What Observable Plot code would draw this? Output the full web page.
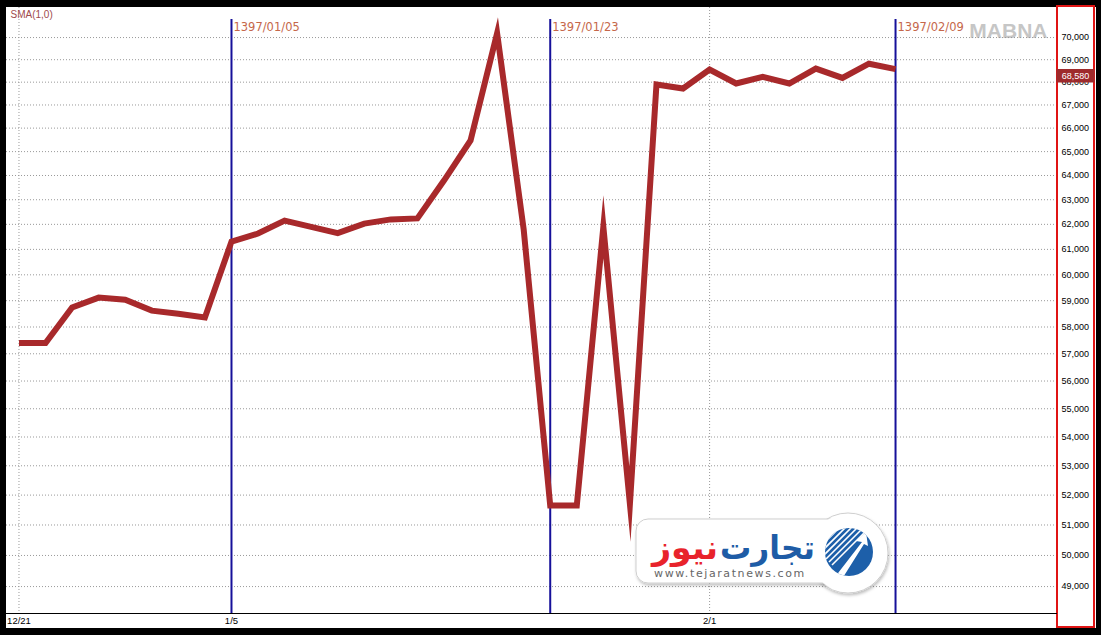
<!DOCTYPE html>
<html>
<head>
<meta charset="utf-8">
<script src="https://cdn.jsdelivr.net/npm/d3@7"></script>
<script src="https://cdn.jsdelivr.net/npm/@observablehq/plot@0.6"></script>
<style>
  html, body { margin: 0; padding: 0; background: #000; }
  #wrap { position: relative; width: 1101px; height: 635px; background: #000; overflow: hidden; }
  #panel { position: absolute; left: 6px; top: 7px; width: 1090px; height: 621px; background: #fff; }
  #axisbox { position: absolute; left: 1056px; top: 5px; width: 39px; height: 623px; box-sizing: border-box; border: 2px solid #e01414; background: #fff; }
  #chart { position: absolute; left: 0; top: 0; }
  #logo { position: absolute; left: 630px; top: 505px; }
</style>
</head>
<body>
<div id="wrap">
  <div id="panel"></div>
  <div id="axisbox"></div>
  <div id="chart"></div>
  <svg id="logo" width="270" height="100" viewBox="0 0 270 100">
    <defs>
      <filter id="sh" x="-10%" y="-10%" width="130%" height="140%">
        <feDropShadow dx="1" dy="2" stdDeviation="1.5" flood-color="#000" flood-opacity="0.25"/>
      </filter>
      <clipPath id="cc"><circle cx="219" cy="47" r="24"/></clipPath>
    </defs>
    <circle cx="218" cy="48" r="40" fill="#fff" stroke="#cfcfcf" stroke-width="1" filter="url(#sh)"/>
    <rect x="6" y="14" width="218" height="64" rx="12" fill="#fff" stroke="#cfcfcf" stroke-width="1" filter="url(#sh)"/>
    <circle cx="218" cy="48" r="39" fill="#fff"/>
    <rect x="7" y="15" width="214" height="62" rx="11" fill="#fff"/>
    <circle cx="219" cy="47" r="24" fill="#1d5fa9"/>
    <g clip-path="url(#cc)" stroke="#fff" stroke-width="1.6">
      <line x1="192" y1="40" x2="212" y2="20"/>
      <line x1="193" y1="45" x2="217" y2="21"/>
      <line x1="194" y1="50" x2="222" y2="22"/>
      <line x1="196" y1="54" x2="227" y2="23"/>
      <line x1="199" y1="57" x2="231" y2="25"/>
      <line x1="202" y1="60" x2="234" y2="28"/>
    </g>
    <polygon clip-path="url(#cc)" points="205,72 232,37 226,36 236,27 238,41 234,39 212,74" fill="#fff"/>
    <text x="90" y="54" textLength="95" lengthAdjust="spacingAndGlyphs" font-family="DejaVu Sans" font-weight="bold" font-size="33" fill="#1e5ca6">تجارت</text>
    <text x="22" y="54" textLength="66" lengthAdjust="spacingAndGlyphs" font-family="DejaVu Sans" font-weight="bold" font-size="33" fill="#e8232b">نیوز</text>
    <text x="100" y="72" text-anchor="middle" font-family="DejaVu Sans" font-size="11" letter-spacing="1.6" fill="#666">www.tejaratnews.com</text>
  </svg>
</div>
<script>
// Daily values (trading-day sequence)
const values = [57400, 57400, 58740, 59120, 59040, 58620, 58500, 58360, 61310, 61630,
                62150, 61900, 61650, 62030, 62200, 62240, 63790, 65470, 70200, 61800,
                51650, 51650, 61900, 51700, 67900, 67720, 68560, 67940, 68240, 67940,
                68600, 68190, 68820, 68580];
// x-axis ticks (position in the day sequence) and their labels
const xTicks = [0, 8, 26];
const xTickLabels = ["12/21", "1/5", "2/1"];
// marked dates (vertical lines)
const eventIdx = [8, 20, 33];
const eventLabels = ["1397/01/05", "1397/01/23", "1397/02/09"];
// y-axis ticks
const yTicks = [49000, 50000, 51000, 52000, 53000, 54000, 55000, 56000, 57000, 58000, 59000,
                60000, 61000, 62000, 63000, 64000, 65000, 66000, 67000, 68000, 69000, 70000];
const lastValue = [68580];
const indicatorLabel = ["SMA(1,0)"];
const watermark = ["MABNA"];

const data = values.map((v, i) => ({i, v}));
const fmt = d3.format(",");

const boxSymbol = { draw(ctx) { ctx.moveTo(-19, -7); ctx.lineTo(19, -7); ctx.lineTo(19, 6.5); ctx.lineTo(-19, 6.5); ctx.closePath(); } };

const chart = Plot.plot({
  width: 1101,
  height: 635,
  marginLeft: 6,
  marginRight: 45,
  marginTop: 7,
  marginBottom: 22,
  style: {background: "transparent", fontFamily: "'Liberation Sans', Arial, sans-serif", fontSize: "9px", color: "#000", overflow: "visible"},
  x: {type: "linear", domain: [-0.47, 39.06]},
  y: {type: "log", domain: [48150, 71380]},
  marks: [
    Plot.text(watermark, {text: d => d, frameAnchor: "top-right", textAnchor: "end", lineAnchor: "top", dx: -9, dy: 16, fill: "#c6c6c6", fontSize: 21, fontWeight: "bold", fontFamily: "'Liberation Sans', Arial, sans-serif"}),
    Plot.gridY(yTicks, {stroke: "#999", strokeOpacity: 1, strokeDasharray: "1,2"}),
    Plot.gridX([xTicks[0], xTicks[2]], {stroke: "#999", strokeOpacity: 1, strokeDasharray: "1,2"}),
    Plot.frame({anchor: "bottom", stroke: "#000", strokeWidth: 1}),
    Plot.ruleX(eventIdx, {stroke: "#16109a", strokeWidth: 2, insetTop: 12}),
    Plot.text(eventIdx, {x: d => d, text: d => eventLabels[eventIdx.indexOf(d)], frameAnchor: "top", textAnchor: "start", lineAnchor: "top", dx: 2, dy: 15, fill: "#c5674a", fontSize: 11.5, fontFamily: "'DejaVu Sans', Verdana, sans-serif"}),
    Plot.line(data, {x: "i", y: "v", stroke: "#a8292b", strokeWidth: 6, strokeLinejoin: "miter", strokeMiterlimit: 40, strokeLinecap: "butt"}),
    Plot.axisY(yTicks, {anchor: "right", label: null, tickSize: 0, tickPadding: 5, tickFormat: fmt, fontSize: 9, fill: "#000"}),
    Plot.axisX(xTicks, {anchor: "bottom", label: null, tickSize: 0, tickPadding: 4, tickFormat: d => xTickLabels[xTicks.indexOf(d)], fontSize: 9.5, fill: "#000"}),
    Plot.dot(lastValue, {y: d => d, frameAnchor: "right", dx: 19, dy: 7, symbol: boxSymbol, fill: "#9e2a2c", stroke: "none"}),
    Plot.text(lastValue, {y: d => d, text: d => fmt(d), frameAnchor: "right", textAnchor: "middle", dx: 19, dy: 7, fill: "#fff", fontSize: 9}),
    Plot.text(indicatorLabel, {text: d => d, frameAnchor: "top-left", textAnchor: "start", lineAnchor: "top", dx: 4, dy: 3.5, fill: "#a04a4c", fontSize: 10})
  ]
});
document.getElementById("chart").appendChild(chart);
</script>
</body>
</html>
